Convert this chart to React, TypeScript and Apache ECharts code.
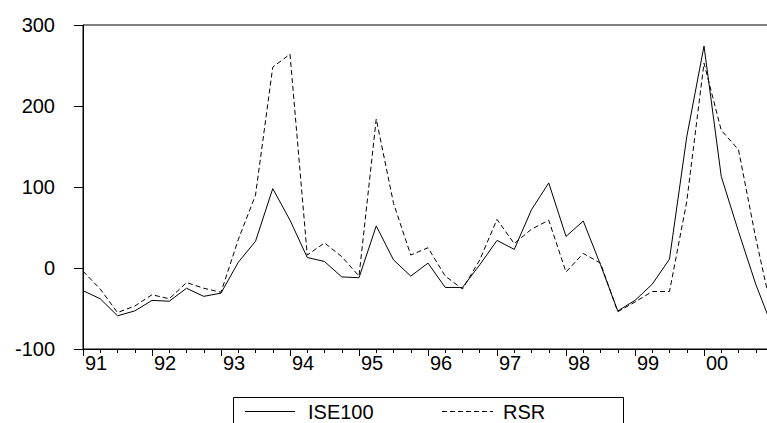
import React, { useEffect, useRef } from "react";
import * as echarts from "echarts";

// Quarterly observations, 1991Q1 .. 2001Q1
const yearLabels = ["91", "92", "93", "94", "95", "96", "97", "98", "99", "00"];
const quartersPerYear = 4;

const ise100 = [
  -28, -38, -59, -53, -40, -41, -25, -35, -31, 7, 33, 98, 59, 13, 8, -11, -12,
  52, 10, -10, 6, -24, -24, 4, 34, 23, 72, 105, 39, 58, 4, -53, -40, -20, 11,
  162, 274, 113, 45, -20, -75,
];
const rsr = [
  -4, -26, -55, -47, -33, -38, -18, -25, -30, 35, 90, 248, 264, 16, 31, 14,
  -10, 184, 80, 16, 25, -10, -26, 10, 60, 30, 48, 59, -5, 18, 6, -54, -42, -29,
  -29, 82, 253, 170, 146, 37, -60,
];

const yTicks = { min: -100, max: 300, interval: 100 };
const FONT = "'Liberation Sans', Arial, sans-serif";

export default function App() {
  const ref = useRef<HTMLDivElement>(null);
  useEffect(() => {
    if (!ref.current) return;
    const chart = echarts.init(ref.current, undefined, { renderer: "svg" });
    const toPairs = (arr: number[]) => arr.map((v, i) => [i, v]);
    const nQ = ise100.length - 1;
    chart.setOption({
      animation: false,
      backgroundColor: "#fff",
      grid: {
        left: 83,
        right: 2,
        top: 25,
        bottom: 74,
        show: true,
        borderColor: "#000",
        borderWidth: 1,
        backgroundColor: "transparent",
      },
      xAxis: {
        type: "value",
        min: 0,
        max: nQ,
        interval: quartersPerYear,
        axisLine: { show: true, onZero: false, lineStyle: { color: "#000", width: 1 } },
        axisTick: { show: true, length: 7, lineStyle: { color: "#000" } },
        minorTick: {
          show: true,
          splitNumber: quartersPerYear,
          length: 4,
          lineStyle: { color: "#000" },
        },
        splitLine: { show: false },
        axisLabel: {
          color: "#000",
          fontFamily: FONT,
          fontSize: 20,
          align: "left",
          margin: 4,
          padding: [0, 0, 0, 2],
          formatter: (v: number) => yearLabels[Math.round(v / quartersPerYear)] ?? "",
        },
      },
      yAxis: {
        type: "value",
        min: yTicks.min,
        max: yTicks.max,
        interval: yTicks.interval,
        axisLine: { show: true, lineStyle: { color: "#000", width: 1 } },
        axisTick: { show: true, length: 9, lineStyle: { color: "#000" } },
        splitLine: { show: false },
        axisLabel: {
          color: "#000",
          fontFamily: FONT,
          fontSize: 20,
          margin: 28,
        },
      },
      series: [
        {
          name: "ISE100",
          type: "line",
          data: toPairs(ise100),
          symbol: "none",
          lineStyle: { color: "#000", width: 1, type: "solid" },
        },
        {
          name: "RSR",
          type: "line",
          data: toPairs(rsr),
          symbol: "none",
          lineStyle: { color: "#000", width: 1, type: [5, 3] },
        },
      ],
      graphic: [
        {
          type: "rect",
          shape: { x: 233.5, y: 397.5, width: 390, height: 40 },
          style: { fill: "none", stroke: "#000", lineWidth: 1 },
        },
        {
          type: "line",
          shape: { x1: 245, y1: 411.5, x2: 295, y2: 411.5 },
          style: { stroke: "#000", lineWidth: 1 },
        },
        {
          type: "text",
          x: 308,
          y: 412,
          style: {
            text: "ISE100",
            fill: "#000",
            font: `20px ${FONT}`,
            verticalAlign: "middle",
          },
        },
        {
          type: "line",
          shape: { x1: 442, y1: 411.5, x2: 493, y2: 411.5 },
          style: { stroke: "#000", lineWidth: 1, lineDash: [5, 3] },
        },
        {
          type: "text",
          x: 503,
          y: 412,
          style: {
            text: "RSR",
            fill: "#000",
            font: `20px ${FONT}`,
            verticalAlign: "middle",
          },
        },
      ],
    });
    return () => chart.dispose();
  }, []);
  return (
    <div
      style={{
        position: "absolute",
        left: 0,
        top: 0,
        width: 767,
        height: 423,
        overflow: "hidden",
      }}
    >
      <div ref={ref} style={{ width: 776, height: 423 }} />
    </div>
  );
}
